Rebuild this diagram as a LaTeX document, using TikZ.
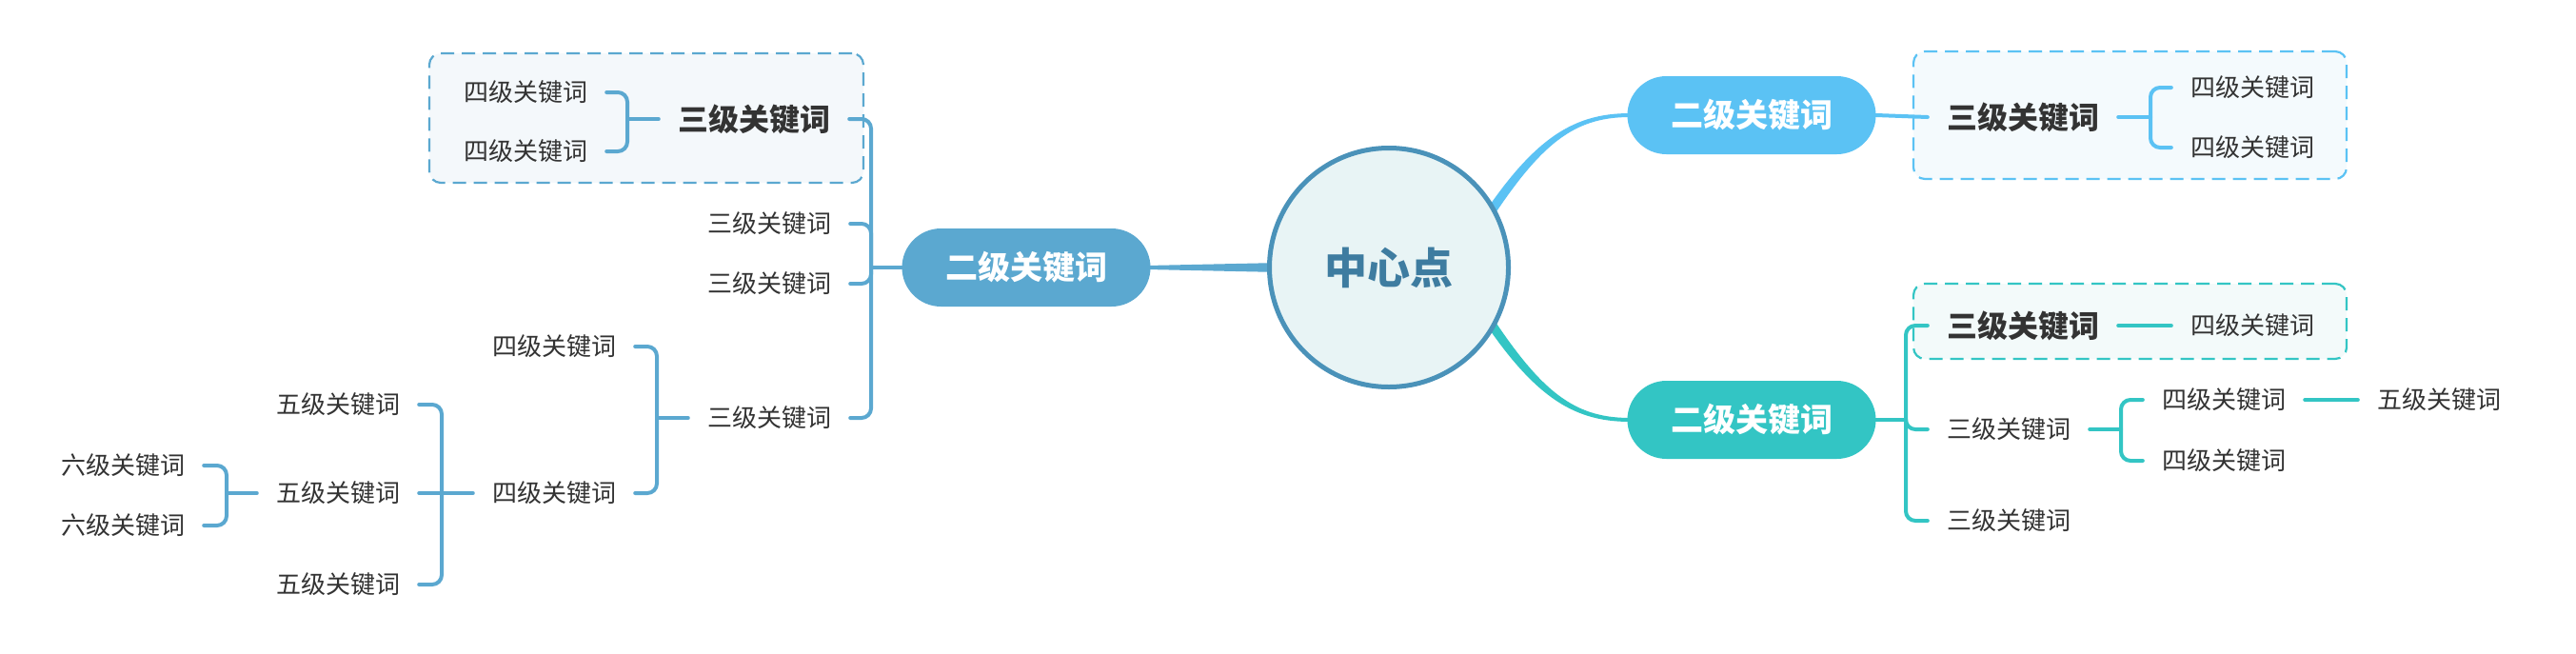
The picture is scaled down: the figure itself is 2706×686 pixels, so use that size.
\documentclass[tikz,border=0pt]{standalone}
\usepackage{fontspec}
\setmainfont{Noto Sans CJK SC}
\usetikzlibrary{calc}
\definecolor{txt}{HTML}{333333}
\definecolor{cL}{HTML}{5BA8D0}
\definecolor{cR}{HTML}{5BC2F4}
\definecolor{cT}{HTML}{33C5C4}
\definecolor{cBorder}{HTML}{4A92B9}
\definecolor{cFill}{HTML}{E8F4F5}
\definecolor{cCtext}{HTML}{3E7CA0}
\definecolor{fL}{HTML}{F4F8FB}
\definecolor{fR}{HTML}{F4FAFD}
\definecolor{fT}{HTML}{F3FAFA}
\tikzset{
  tn/.style={font=\fontsize{26}{30}\selectfont, text=txt, inner sep=0pt, anchor=center, yshift=-2pt},
  tb/.style={font=\fontsize{32}{36}\selectfont\bfseries, text=txt, inner sep=0pt, anchor=center, yshift=-2pt},
  pill/.style={rounded corners=41, minimum width=261, minimum height=82, inner sep=0pt,
    font=\fontsize{34}{40}\selectfont\bfseries, text=white},
  dbox/.style={rounded corners=12, line width=2.2, dash pattern=on 14 off 8},
  cn/.style={line width=4, line cap=round},
  br/.style={cn, rounded corners=10},
}
\begin{document}
\begin{tikzpicture}[x=1pt,y=-1pt]
\useasboundingbox[fill=white] (0,0) rectangle (2706,686);

% dashed boxes
\node[dbox, draw=cL, fill=fL, minimum width=456, minimum height=136] (BL) at (679,124) {};
\node[dbox, draw=cR, fill=fR, minimum width=455, minimum height=134] (BR1) at (2237.5,121) {};
\node[dbox, draw=cT, fill=fT, minimum width=455, minimum height=79] (BR2) at (2237.5,337.5) {};

% main nodes
\node[pill, fill=cL] (L2) at (1078,281) {二级关键词};
\node[pill, fill=cR] (R2a) at (1840,121) {二级关键词};
\node[pill, fill=cT] (R2b) at (1840,441) {二级关键词};

% left texts
\node[tb] (L3a) at (792,123) {三级关键词};
\node[tn] (L4a) at (552,95) {四级关键词};
\node[tn] (L4b) at (552,157) {四级关键词};
\node[tn] (L3b) at (808,233) {三级关键词};
\node[tn] (L3c) at (808,296) {三级关键词};
\node[tn] (L3d) at (808,437) {三级关键词};
\node[tn] (L4c) at (582,362) {四级关键词};
\node[tn] (L4d) at (582,516) {四级关键词};
\node[tn] (L5a) at (355,423) {五级关键词};
\node[tn] (L5b) at (355,516) {五级关键词};
\node[tn] (L5c) at (355,612) {五级关键词};
\node[tn] (L6a) at (129,487) {六级关键词};
\node[tn] (L6b) at (129,550) {六级关键词};

% right texts
\node[tb] (R3a) at (2125,121) {三级关键词};
\node[tn] (R4a) at (2366,90) {四级关键词};
\node[tn] (R4b) at (2366,153) {四级关键词};
\node[tb] (R3b) at (2125,340) {三级关键词};
\node[tn] (R4c) at (2366,340) {四级关键词};
\node[tn] (R3c) at (2110,449) {三级关键词};
\node[tn] (R3d) at (2110,545) {三级关键词};
\node[tn] (R4d) at (2336,418) {四级关键词};
\node[tn] (R4e) at (2336,482) {四级关键词};
\node[tn] (R5) at (2562,418) {五级关键词};

% junction coordinates
\coordinate (jL2) at (915,281);
\coordinate (jL3a) at (659,125);
\coordinate (jL3d) at (690,439);
\coordinate (jL4d) at (464,518);
\coordinate (jL5b) at (238,518);
\coordinate (jR3a) at (2259,123);
\coordinate (jR2b) at (2002,441);
\coordinate (jR3c) at (2228,451);

% left connectors
\draw[cL, cn] (L2.west) -- (jL2);
\foreach \c in {L3a,L3b,L3c,L3d} \draw[cL, br] (jL2) |- ([xshift=20]\c.east);
\draw[cL, cn] ([xshift=-20]L3a.west) -- (jL3a);
\foreach \c in {L4a,L4b} \draw[cL, br] (jL3a) |- ([xshift=20]\c.east);
\draw[cL, cn] ([xshift=-20]L3d.west) -- (jL3d);
\foreach \c in {L4c,L4d} \draw[cL, br] (jL3d) |- ([xshift=20]\c.east);
\draw[cL, cn] ([xshift=-20]L4d.west) -- ([xshift=20]L5b.east);
\foreach \c in {L5a,L5c} \draw[cL, br] (jL4d) |- ([xshift=20]\c.east);
\draw[cL, cn] ([xshift=-20]L5b.west) -- (jL5b);
\foreach \c in {L6a,L6b} \draw[cL, br] (jL5b) |- ([xshift=20]\c.east);

% right connectors
\draw[cR, cn] (R2a.east) -- ([xshift=-20]R3a.west);
\draw[cR, cn] ([xshift=20]R3a.east) -- (jR3a);
\foreach \c in {R4a,R4b} \draw[cR, br] (jR3a) |- ([xshift=-20]\c.west);
\draw[cT, cn] (R2b.east) -- (jR2b);
\foreach \c in {R3b,R3c,R3d} \draw[cT, br] (jR2b) |- ([xshift=-20]\c.west);
\draw[cT, cn] ([xshift=20]R3b.east) -- ([xshift=-20]R4c.west);
\draw[cT, cn] ([xshift=20]R3c.east) -- (jR3c);
\foreach \c in {R4d,R4e} \draw[cT, br] (jR3c) |- ([xshift=-20]\c.west);
\draw[cT, cn] ([xshift=20]R4d.east) -- ([xshift=-20]R5.west);

% tapered main connectors
\fill[cL] ([xshift=-4,yshift=2]L2.east) -- (1345,276) -- (1345,286) -- ([xshift=-4,yshift=-2]L2.east) -- cycle;
\fill[cR] (1541,252) .. controls (1606,147) and (1650,119) .. ([xshift=3,yshift=2]R2a.west)
  -- ([xshift=3,yshift=-2]R2a.west) .. controls (1650,123) and (1614,153) .. (1549,258) -- cycle;
\fill[cT] (1541,310) .. controls (1606,415) and (1650,443) .. ([xshift=3,yshift=-2]R2b.west)
  -- ([xshift=3,yshift=2]R2b.west) .. controls (1650,439) and (1614,409) .. (1549,304) -- cycle;

% center
\node[circle, draw=cBorder, line width=5, fill=cFill, minimum size=251, inner sep=0pt,
  font=\fontsize{45}{50}\selectfont\bfseries, text=cCtext] (C) at (1459,281) {中心点};
\end{tikzpicture}
\end{document}
